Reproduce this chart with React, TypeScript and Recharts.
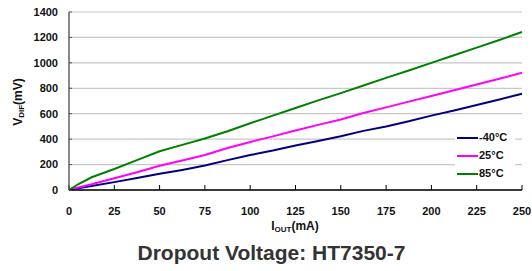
import React from 'react';
import { LineChart, Line, XAxis, YAxis, CartesianGrid } from 'recharts';

const currentMA = [0, 5, 12.5, 25, 37.5, 50, 62.5, 75, 87.5, 100, 112.5, 125, 137.5, 150, 162.5, 175, 187.5, 200, 212.5, 225, 237.5, 250];
const vMinus40 = [0, 14, 32, 62, 95, 128, 158, 192, 235, 275, 310, 350, 385, 422, 465, 500, 540, 585, 625, 668, 712, 757];
const v25 = [0, 20, 45, 92, 140, 190, 232, 275, 330, 378, 422, 468, 512, 555, 605, 650, 695, 740, 785, 830, 875, 922];
const v85 = [0, 45, 100, 165, 235, 305, 355, 405, 462, 525, 585, 645, 705, 762, 822, 882, 940, 1000, 1060, 1120, 1180, 1243];

const xTicks = [0, 25, 50, 75, 100, 125, 150, 175, 200, 225, 250];
const yTicks = [0, 200, 400, 600, 800, 1000, 1200, 1400];
const seriesNames = ['-40°C', '25°C', '85°C'];
const seriesColors = ['#000080', '#ff00ff', '#008000'];

const data = currentMA.map((x, i) => ({ x, a: vMinus40[i], b: v25[i], c: v85[i] }));

const FONT = '"Liberation Sans", Arial, sans-serif';

export default function App() {
  return (
    <div style={{ position: 'absolute', left: 0, top: 0, width: 532, height: 271, background: '#fff' }}>
      <LineChart width={532} height={271} data={data} margin={{ top: 12, right: 10, left: 0, bottom: 51 }}>
        <CartesianGrid vertical={false} stroke="#c8c8c8" strokeWidth={1.2} />
        <XAxis
          dataKey="x"
          type="number"
          domain={[0, 250]}
          ticks={xTicks}
          interval={0}
          height={30}
          tickSize={-5}
          tickMargin={22}
          axisLine={{ stroke: '#000', strokeWidth: 1.6 }}
          tickLine={{ stroke: '#000', strokeWidth: 1 }}
          tick={{ fill: '#111', fontSize: 11, fontWeight: 'bold', fontFamily: FONT }}
        />
        <YAxis
          type="number"
          domain={[0, 1400]}
          ticks={yTicks}
          interval={0}
          width={69}
          tickSize={-3}
          tickMargin={14}
          axisLine={{ stroke: '#555', strokeWidth: 1.4 }}
          tickLine={{ stroke: '#555', strokeWidth: 1 }}
          tick={{ fill: '#111', fontSize: 11, fontWeight: 'bold', fontFamily: FONT }}
        />
        <Line dataKey="a" name={seriesNames[0]} stroke={seriesColors[0]} strokeWidth={2} dot={false} isAnimationActive={false} />
        <Line dataKey="b" name={seriesNames[1]} stroke={seriesColors[1]} strokeWidth={2} dot={false} isAnimationActive={false} />
        <Line dataKey="c" name={seriesNames[2]} stroke={seriesColors[2]} strokeWidth={2} dot={false} isAnimationActive={false} />
      </LineChart>
      <div style={{ position: 'absolute', left: 455, top: 128, width: 60, height: 53, background: '#fff' }}>
        {seriesNames.map((n, i) => (
          <div key={n} style={{ position: 'absolute', left: 0, top: 1 + i * 18, height: 17, display: 'flex', alignItems: 'center' }}>
            <div style={{ width: 21, height: 2, background: seriesColors[i], marginLeft: 2 }} />
            <span style={{ fontFamily: FONT, fontWeight: 'bold', fontSize: 11, color: '#111', marginLeft: 1, lineHeight: '17px' }}>{n}</span>
          </div>
        ))}
      </div>
      <svg width={532} height={271} style={{ position: 'absolute', left: 0, top: 0, pointerEvents: 'none' }}>
        <text transform="translate(22,102) rotate(-90)" textAnchor="middle" fontFamily={FONT} fontWeight="bold" fontSize={12} fill="#111">
          V<tspan fontSize={8} dy={1.5}>DIF</tspan><tspan dy={-1.5}>(mV)</tspan>
        </text>
        <text x={295} y={230} textAnchor="middle" fontFamily={FONT} fontWeight="bold" fontSize={12} fill="#111">
          I<tspan fontSize={8} dy={1.5}>OUT</tspan><tspan dy={-1.5}>(mA)</tspan>
        </text>
        <text x={271.5} y={260} textAnchor="middle" fontFamily={FONT} fontWeight="bold" fontSize={21} fill="#333">
          Dropout Voltage: HT7350-7
        </text>
      </svg>
    </div>
  );
}
